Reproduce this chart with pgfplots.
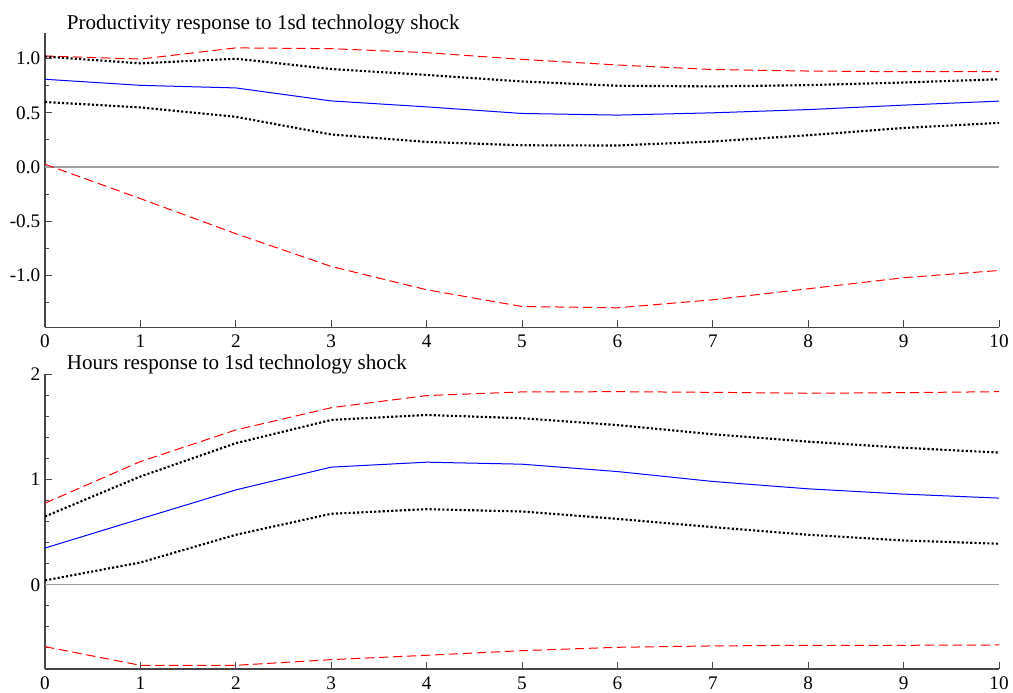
\documentclass[border=0pt]{standalone}
\usepackage{fontspec}
\setmainfont{Liberation Serif}
\usepackage{pgfplots}
\pgfplotsset{compat=1.18}
\definecolor{axgray}{RGB}{70,70,70}
\definecolor{zgray}{RGB}{160,160,160}
\pgfplotsset{
  irf/.style={
    scale only axis,
    width=715.5pt,
    xmin=0, xmax=10,
    axis x line*=bottom,
    axis y line*=left,
    axis line style={axgray, line width=0.8pt},
    every tick/.style={axgray, line width=0.7pt},
    tick align=inside,
    major tick length=5.5pt,
    minor tick length=3pt,
    xtick={0,...,10},
    xticklabels={0,1,2,3,4,5,6,7,8,9,10},
    tick label style={font=\fontsize{14.4}{16}\selectfont},
    xticklabel style={inner sep=5.4pt},
    yticklabel style={inner sep=3.4pt},
    clip=false,
  },
  red dash/.style={red, line width=0.75pt, dash pattern=on 7pt off 3.5pt},
  blk dot/.style={black, line width=1.6pt, dash pattern=on 1.6pt off 1.6pt},
  blu/.style={blue, line width=0.75pt},
  zero/.style={zgray, line width=0.9pt},
}
\begin{document}
\begin{tikzpicture}
\useasboundingbox (0,0) rectangle (759.75pt,519pt);
% ---------- top panel ----------
\begin{axis}[irf,
  at={(33.75pt,273.375pt)}, anchor=south west,
  height=220.65pt,
  ymin=-1.484, ymax=1.235,
  ytick={-1,-0.5,0,0.5,1},
  yticklabels={-1.0,-0.5,0.0,0.5,1.0},
  minor ytick={-1.25,-0.75,-0.25,0.25,0.75},
]
\addplot[zero] coordinates {(0,0) (10,0)};
\addplot[red dash] coordinates {(0,1.025) (1,0.997) (2,1.100) (3,1.093) (4,1.056) (5,0.994) (6,0.942) (7,0.900) (8,0.886) (9,0.880) (10,0.880)};
\addplot[red dash] coordinates {(0,0.025) (1,-0.293) (2,-0.617) (3,-0.920) (4,-1.135) (5,-1.290) (6,-1.302) (7,-1.228) (8,-1.126) (9,-1.024) (10,-0.957)};
\addplot[blk dot] coordinates {(0,1.020) (1,0.957) (2,1.000) (3,0.905) (4,0.850) (5,0.790) (6,0.750) (7,0.744) (8,0.756) (9,0.780) (10,0.810)};
\addplot[blk dot] coordinates {(0,0.600) (1,0.550) (2,0.463) (3,0.300) (4,0.231) (5,0.200) (6,0.198) (7,0.235) (8,0.293) (9,0.360) (10,0.407)};
\addplot[blu] coordinates {(0,0.810) (1,0.754) (2,0.730) (3,0.610) (4,0.555) (5,0.494) (6,0.479) (7,0.500) (8,0.530) (9,0.571) (10,0.608)};
\end{axis}
\node[anchor=base west, inner sep=0pt, font=\fontsize{15.8}{18}\selectfont] at (50pt,497pt) {Productivity response to 1sd technology shock};
% ---------- bottom panel ----------
\begin{axis}[irf,
  at={(33.75pt,17.25pt)}, anchor=south west,
  height=221.25pt,
  ymin=-0.80, ymax=2.0,
  ytick={0,1,2},
  yticklabels={0,1,2},
  minor ytick={-0.8,-0.6,-0.4,-0.2,0.2,0.4,0.6,0.8,1.2,1.4,1.6,1.8},
]
\addplot[zero] coordinates {(0,0) (10,0)};
\addplot[red dash] coordinates {(0,0.774) (1,1.169) (2,1.469) (3,1.680) (4,1.795) (5,1.830) (6,1.832) (7,1.826) (8,1.817) (9,1.823) (10,1.832)};
\addplot[red dash] coordinates {(0,-0.588) (1,-0.765) (2,-0.765) (3,-0.711) (4,-0.670) (5,-0.626) (6,-0.594) (7,-0.581) (8,-0.575) (9,-0.575) (10,-0.572)};
\addplot[blk dot] coordinates {(0,0.648) (1,1.027) (2,1.343) (3,1.564) (4,1.611) (5,1.580) (6,1.515) (7,1.428) (8,1.358) (9,1.300) (10,1.254)};
\addplot[blk dot] coordinates {(0,0.041) (1,0.211) (2,0.474) (3,0.673) (4,0.717) (5,0.695) (6,0.625) (7,0.547) (8,0.474) (9,0.420) (10,0.389)};
\addplot[blu] coordinates {(0,0.348) (1,0.625) (2,0.900) (3,1.116) (4,1.163) (5,1.144) (6,1.074) (7,0.980) (8,0.910) (9,0.860) (10,0.822)};
\end{axis}
\node[anchor=base west, inner sep=0pt, font=\fontsize{15.8}{18}\selectfont] at (50pt,242pt) {Hours response to 1sd technology shock};
\end{tikzpicture}
\end{document}
